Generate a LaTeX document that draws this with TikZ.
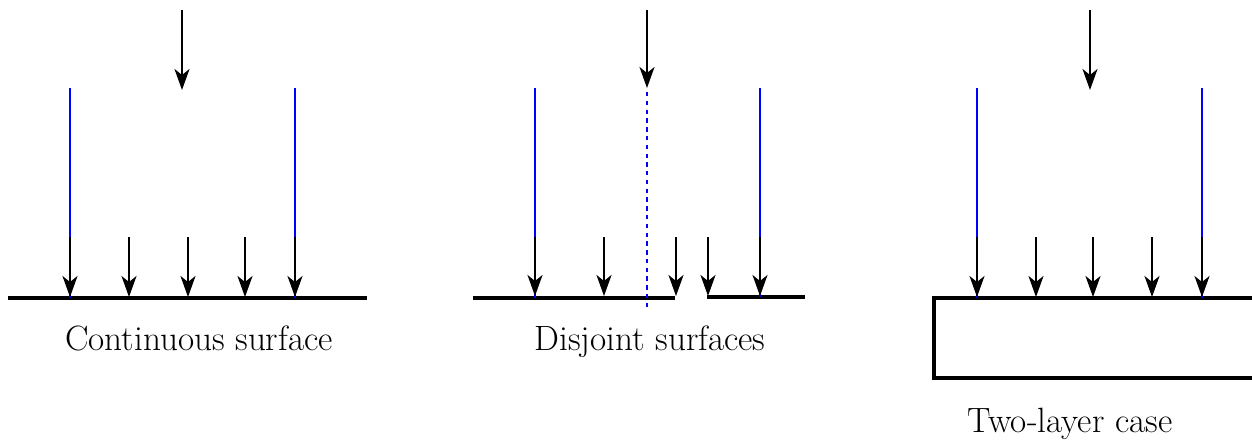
\documentclass[tikz,border=0pt]{standalone}
\usetikzlibrary{arrows.meta}
\begin{document}
\begin{tikzpicture}[x=0.02cm,y=-0.02cm,
  surf/.style={line width=2.7pt},
  flux/.style={line width=1.35pt,-{Stealth[length=0.42cm,width=0.3cm,inset=0.12cm]}},
  ray/.style={blue, line width=0.7pt},
  dray/.style={blue, line width=0.7pt, dash pattern=on 2.5pt off 2.5pt},
  lab/.style={font=\fontsize{20}{24}\selectfont, inner sep=0pt, anchor=base}]
\useasboundingbox (0,0) rectangle (1252,441);
% ---- panel 1: continuous surface
\coordinate (s1a) at (8,298); \coordinate (s1b) at (367,298);
\draw[surf] (s1a) -- (s1b);
\draw[ray] (70,88) -- (70,298);
\draw[ray] (295,88) -- (295,298);
\coordinate (t1a) at (182,10); \coordinate (t1b) at (182,90);
\draw[flux] (t1a) -- (t1b);
\foreach \x in {70,129,188,245,295}{\draw[flux] (\x,237) -- (\x,297);}
\node[lab] (l1) at (199,350) {Continuous surface};
% ---- panel 2: disjoint surfaces
\coordinate (s2a) at (473,298); \coordinate (s2b) at (675,298);
\coordinate (s2c) at (707,297); \coordinate (s2d) at (805,297);
\draw[surf] (s2a) -- (s2b);
\draw[surf] (s2c) -- (s2d);
\draw[ray] (535,88) -- (535,298);
\draw[ray] (760,88) -- (760,297);
\draw[dray] (647,92) -- (647,310);
\coordinate (t2a) at (647,10); \coordinate (t2b) at (647,88);
\draw[flux] (t2a) -- (t2b);
\foreach \x in {535,604,676,708,760}{\draw[flux] (\x,237) -- (\x,296);}
\node[lab] (l2) at (650,350) {Disjoint surfaces};
% ---- panel 3: two-layer case
\coordinate (b1) at (1262,298); \coordinate (b2) at (934,298);
\coordinate (b3) at (934,378); \coordinate (b4) at (1262,378);
\draw[surf] (b1) -- (b2) -- (b3) -- (b4);
\draw[ray] (977,88) -- (977,298);
\draw[ray] (1202,88) -- (1202,298);
\coordinate (t3a) at (1090,10); \coordinate (t3b) at (1090,90);
\draw[flux] (t3a) -- (t3b);
\foreach \x in {977,1036,1093,1152,1202}{\draw[flux] (\x,237) -- (\x,297);}
\node[lab] (l3) at (1070,432) {Two-layer case};
\end{tikzpicture}
\end{document}
